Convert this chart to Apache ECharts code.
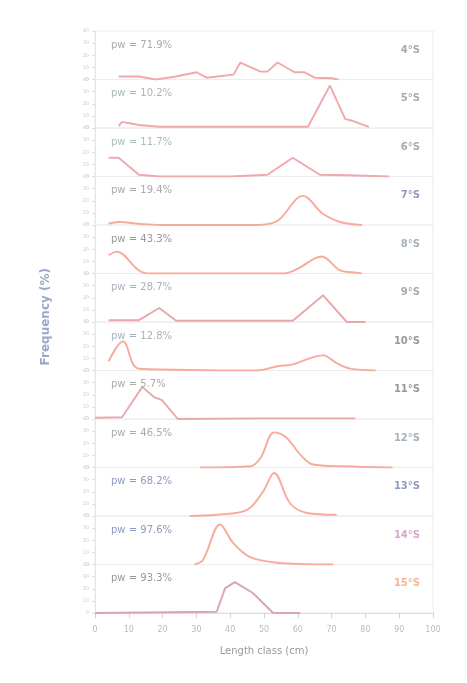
<!DOCTYPE html>
<html><head><meta charset="utf-8">
<script src="https://cdn.jsdelivr.net/npm/echarts@6/dist/echarts.min.js"></script>
<style>html,body{margin:0;padding:0;background:#fff}#c{width:467px;height:683px}</style>
</head><body><div id="c"></div>
<script>
// Latitude bands (panels, top to bottom)
const latitudes = ['4°S','5°S','6°S','7°S','8°S','9°S','10°S','11°S','12°S','13°S','14°S','15°S'];
const pwValues = ['71.9%','10.2%','11.7%','19.4%','43.3%','28.7%','12.8%','5.7%','46.5%','68.2%','97.6%','93.3%'];
// Length-frequency distributions: [length, frequency %]
const s4S  = [[7,2.5],[13,2.5],[18,0],[24,2.5],[30,6],[33,1.5],[41,4],[43,14],[49,6.5],[51,6.5],[54,14],[59,6],[62,6],[65,1.5],[70,1],[72,0]];
const s5S  = [[7,1.5],[8,5],[13,2.5],[19,1],[63,1],[69.5,35],[74,7.5],[76,6],[81,1]];
const s6S  = [[4,15.5],[7,15.5],[13,1.5],[19,0],[40,0],[51,1.5],[58.5,15.5],[66.5,1.5],[75,1],[87,0]];
const s7S  = [[4,1],[7,2.5],[13,1],[19,0],[48,0],[54,3.5],[61.5,24],[67.5,9],[72.5,2.5],[79,0]];
const s8S  = [[4,15],[6.5,18],[13,2.5],[16.5,0],[49,0],[56,0],[60,4],[67,14],[72.5,2.5],[76,1],[79,0]];
const s9S  = [[4,1.5],[13,1.5],[19,11.5],[24,1],[45,1],[58.5,1],[67.5,22],[74.5,0],[80,0]];
const s10S = [[4,7.5],[8.3,24],[13,1.5],[48,0],[54,3.5],[58.5,5],[63.5,10],[67.5,12.5],[71.5,6],[75.5,1.5],[83,0]];
const s11S = [[0,1],[8,1.5],[14,26.5],[17.5,18],[19.8,15.5],[24.5,0],[48,0.5],[77,0.5]];
const s12S = [[31,0],[46,1],[49,8],[53,29],[56.5,25],[60.5,11.5],[64.5,2.5],[73,1],[88,0]];
const s13S = [[28,0],[36,1],[45,5],[49.7,20],[53,35.5],[57.7,10.5],[62.7,2.5],[71.5,1]];
const s14S = [[29.5,0],[32,4],[37,33],[40.8,18],[45.9,6],[53.8,1.5],[70.4,0]];
const s15S = [[0,0],[36,1],[38.5,20.5],[41.4,25.5],[46.7,16.5],[52.7,0],[60.7,0]];
const seriesData = [s4S,s5S,s6S,s7S,s8S,s9S,s10S,s11S,s12S,s13S,s14S,s15S];
const smoothFlags = [false,false,false,true,true,false,true,false,true,true,true,false];
const lineColors = ['#f2a6ae','#f2a6ae','#f2a6ae','#f8aa9c','#f8aa9c','#eaa6a8','#f8aa9c','#e8a8ac','#f8aa9c','#f8aa9c','#f8aa9c','#d8a6ae'];
const latColors = ['#aaaaaa','#aaaaaa','#aaaaaa','#8d9ac2','#a8b0b8','#aaaaaa','#999999','#999999','#a8b0c0','#8d9ac2','#d9a6cc','#f5b494'];
const pwColors = ['#aaaaaa','#aab8b0','#a8c0b0','#aaaaaa','#999999','#a8b0c0','#a8b0c0','#aaaaaa','#aaaaaa','#8d9ac2','#8d9ac2','#999999'];
const xTicks = {min:0, max:100, interval:10};
const yTicks = {min:0, max:40, interval:10};

const top0 = 31, ph = 48.5, L = 95, R = 34;
const grids=[], xAxes=[], yAxes=[], series=[], titles=[];
latitudes.forEach((lat,i)=>{
  const last = i===latitudes.length-1;
  grids.push({left:L, right:R, top: top0+i*ph, height: ph, show:true, borderColor:'#ececec', borderWidth:1, backgroundColor:'transparent'});
  xAxes.push({type:'value', gridIndex:i, min:xTicks.min, max:xTicks.max, interval:xTicks.interval,
    axisLine:{show:last, lineStyle:{color:'#dddddd'}}, axisTick:{show:last, lineStyle:{color:'#d0d0d0'}},
    axisLabel:{show:last, color:'#bbbbbb', fontSize:8, margin:13, fontFamily:'DejaVu Sans'},
    splitLine:{show:false},
    name: last ? 'Length class (cm)' : '', nameLocation:'middle', nameGap:33,
    nameTextStyle:{color:'#9a9a9a', fontSize:10, fontFamily:'DejaVu Sans'}});
  yAxes.push({type:'value', gridIndex:i, min:yTicks.min, max:yTicks.max, interval:yTicks.interval,
    axisLine:{show:true, lineStyle:{color:'#e6e6e6'}}, axisTick:{show:true, length:3, lineStyle:{color:'#dddddd'}},
    axisLabel:{show:true, color:'#cccccc', fontSize:5, margin:6, fontFamily:'DejaVu Sans'},
    splitLine:{show:false}});
  series.push({type:'line', xAxisIndex:i, yAxisIndex:i, data: seriesData[i], smooth: smoothFlags[i] ? 0.35 : false,
    showSymbol:false, lineStyle:{color:lineColors[i], width:1.9}, itemStyle:{color:lineColors[i]}, silent:true});
  titles.push({text:'pw = '+pwValues[i], left: 106, top: top0+i*ph+4,
    textStyle:{color:pwColors[i], fontSize:10, fontWeight:'normal', fontFamily:'DejaVu Sans'}});
  titles.push({text:lat, right: 42, top: top0+i*ph+9,
    textStyle:{color:latColors[i], fontSize:10, fontWeight:'bold', fontFamily:'DejaVu Sans'}});
});

const chart = echarts.init(document.getElementById('c'), null, {renderer:'canvas'});
chart.setOption({
  backgroundColor:'#ffffff',
  animation:false,
  title: titles,
  grid: grids, xAxis: xAxes, yAxis: yAxes, series: series,
  graphic:[{type:'text', left: 40, top: 268, rotation: Math.PI/2,
    style:{text:'Frequency (%)', fill:'#9aa8c8', font:'bold 12px DejaVu Sans'}}]
});
</script></body></html>
